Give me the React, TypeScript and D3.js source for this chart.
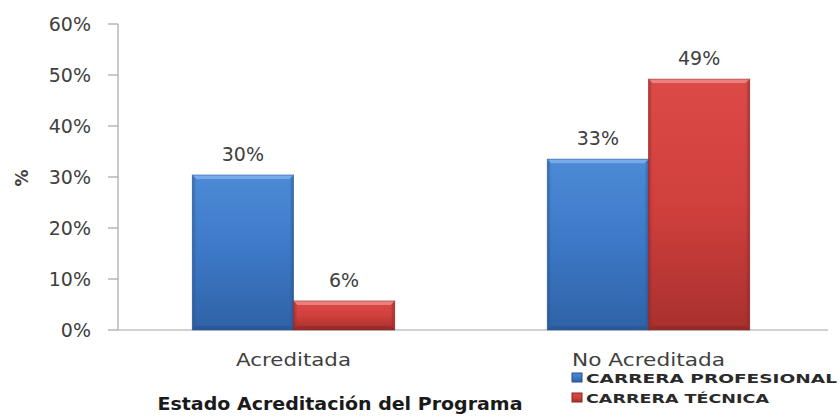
import React from 'react';
import * as d3 from 'd3';

const categories = ['Acreditada', 'No Acreditada'];
const seriesNames = ['CARRERA PROFESIONAL', 'CARRERA TÉCNICA'];
const profesional = [0.304, 0.335];
const tecnica = [0.057, 0.492];
const valueLabels = [['30%', '33%'], ['6%', '49%']];
const yTicks = [0, 0.1, 0.2, 0.3, 0.4, 0.5, 0.6];

const W = 840, H = 417;
const FONT = 'DejaVu Sans, sans-serif';

export default function App() {
  const x0 = d3.scaleBand<string>().domain(categories).range([116, 826]).paddingInner(0.43).paddingOuter(0.215);
  const x1 = d3.scaleBand<string>().domain(seriesNames).range([0, x0.bandwidth()]);
  const y = d3.scaleLinear().domain([0, 0.6]).range([330, 24]);
  const series = [profesional, tecnica];
  const colors = [
    { id: 'b', top: '#4d8ad6', mid: '#3c78c6', bot: '#2f62a6', hi: '#7fb0ec', edge: '#24508c' },
    { id: 'r', top: '#dc4a47', mid: '#d0403d', bot: '#a8302e', hi: '#ee8a86', edge: '#862423' },
  ];
  const catWidths = [115, 153];
  const fmt = d3.format('.0%');
  return (
    <svg width={W} height={H} style={{ position: 'absolute', left: 0, top: 0, background: '#fff' }} fontFamily={FONT}>
      <defs>
        {colors.map(c => (
          <React.Fragment key={c.id}>
            <linearGradient id={'v' + c.id} x1="0" y1="0" x2="0" y2="1">
              <stop offset="0" stopColor={c.top} />
              <stop offset="0.5" stopColor={c.mid} />
              <stop offset="1" stopColor={c.bot} />
            </linearGradient>
            <linearGradient id={'h' + c.id} x1="0" y1="0" x2="1" y2="0">
              <stop offset="0" stopColor={c.edge} stopOpacity="0.55" />
              <stop offset="0.04" stopColor={c.edge} stopOpacity="0" />
              <stop offset="0.96" stopColor={c.edge} stopOpacity="0" />
              <stop offset="1" stopColor={c.edge} stopOpacity="0.6" />
            </linearGradient>
          </React.Fragment>
        ))}
      </defs>
      {/* axes */}
      <line x1={118} x2={118} y1={y(0.6)} y2={y(0)} stroke="#a6a6a6" strokeWidth={1.2} />
      <line x1={118} x2={828} y1={y(0)} y2={y(0)} stroke="#a6a6a6" strokeWidth={1.2} />
      {yTicks.map(t => (
        <g key={t}>
          <line x1={108} x2={118} y1={y(t)} y2={y(t)} stroke="#a6a6a6" strokeWidth={1.2} />
          <text x={91} y={y(t)} dy="0.36em" textAnchor="end" fontSize={19} fill="#404040">{fmt(t)}</text>
        </g>
      ))}
      <text transform={`translate(28,178) rotate(-90)`} textAnchor="middle" fontSize={17} fontWeight="bold" fill="#404040">%</text>
      {/* bars */}
      {series.map((vals, si) => {
        const c = colors[si];
        return vals.map((v, ci) => {
          const bx = (x0(categories[ci]) as number) + (x1(seriesNames[si]) as number);
          const bw = x1.bandwidth();
          const top = y(v);
          const bh = y(0) - top;
          const bev = 4;
          return (
            <g key={si + '-' + ci}>
              <rect x={bx} y={top} width={bw} height={bh} fill={`url(#v${c.id})`} />
              <rect x={bx} y={top} width={bw} height={bh} fill={`url(#h${c.id})`} />
              <polygon points={`${bx},${top} ${bx + bw},${top} ${bx + bw - bev},${top + bev} ${bx + bev},${top + bev}`} fill={c.hi} opacity={0.85} />
              <polygon points={`${bx},${top + bh} ${bx + bw},${top + bh} ${bx + bw - bev},${top + bh - bev} ${bx + bev},${top + bh - bev}`} fill={c.edge} opacity={0.5} />
              <rect x={bx} y={top} width={bw} height={bh} fill="none" stroke={c.edge} strokeOpacity={0.5} strokeWidth={1} />
              <text x={bx + bw / 2} y={top - 14} textAnchor="middle" fontSize={19} fill="#404040">{valueLabels[si][ci]}</text>
            </g>
          );
        });
      })}
      {/* category labels */}
      {categories.map((cat, i) => (
        <text key={cat} x={(x0(cat) as number) + x0.bandwidth() / 2} y={366} textAnchor="middle" fontSize={18} fill="#404040"
          textLength={catWidths[i]} lengthAdjust="spacingAndGlyphs">{cat}</text>
      ))}
      <text x={340} y={410} textAnchor="middle" fontSize={18} fontWeight="bold" fill="#1a1a1a" textLength={365} lengthAdjust="spacingAndGlyphs">Estado Acreditación del Programa</text>
      {/* legend */}
      {seriesNames.map((s, i) => (
        <g key={s}>
          <rect x={572} y={373 + i * 20} width={10} height={9} fill={`url(#v${colors[i].id})`} stroke={colors[i].edge} strokeWidth={1} />
          <text x={586} y={383 + i * 20} fontSize={12.5} fontWeight="bold" fill="#2a2a2a" textLength={i === 0 ? 251 : 183} lengthAdjust="spacingAndGlyphs">{s}</text>
        </g>
      ))}
    </svg>
  );
}
